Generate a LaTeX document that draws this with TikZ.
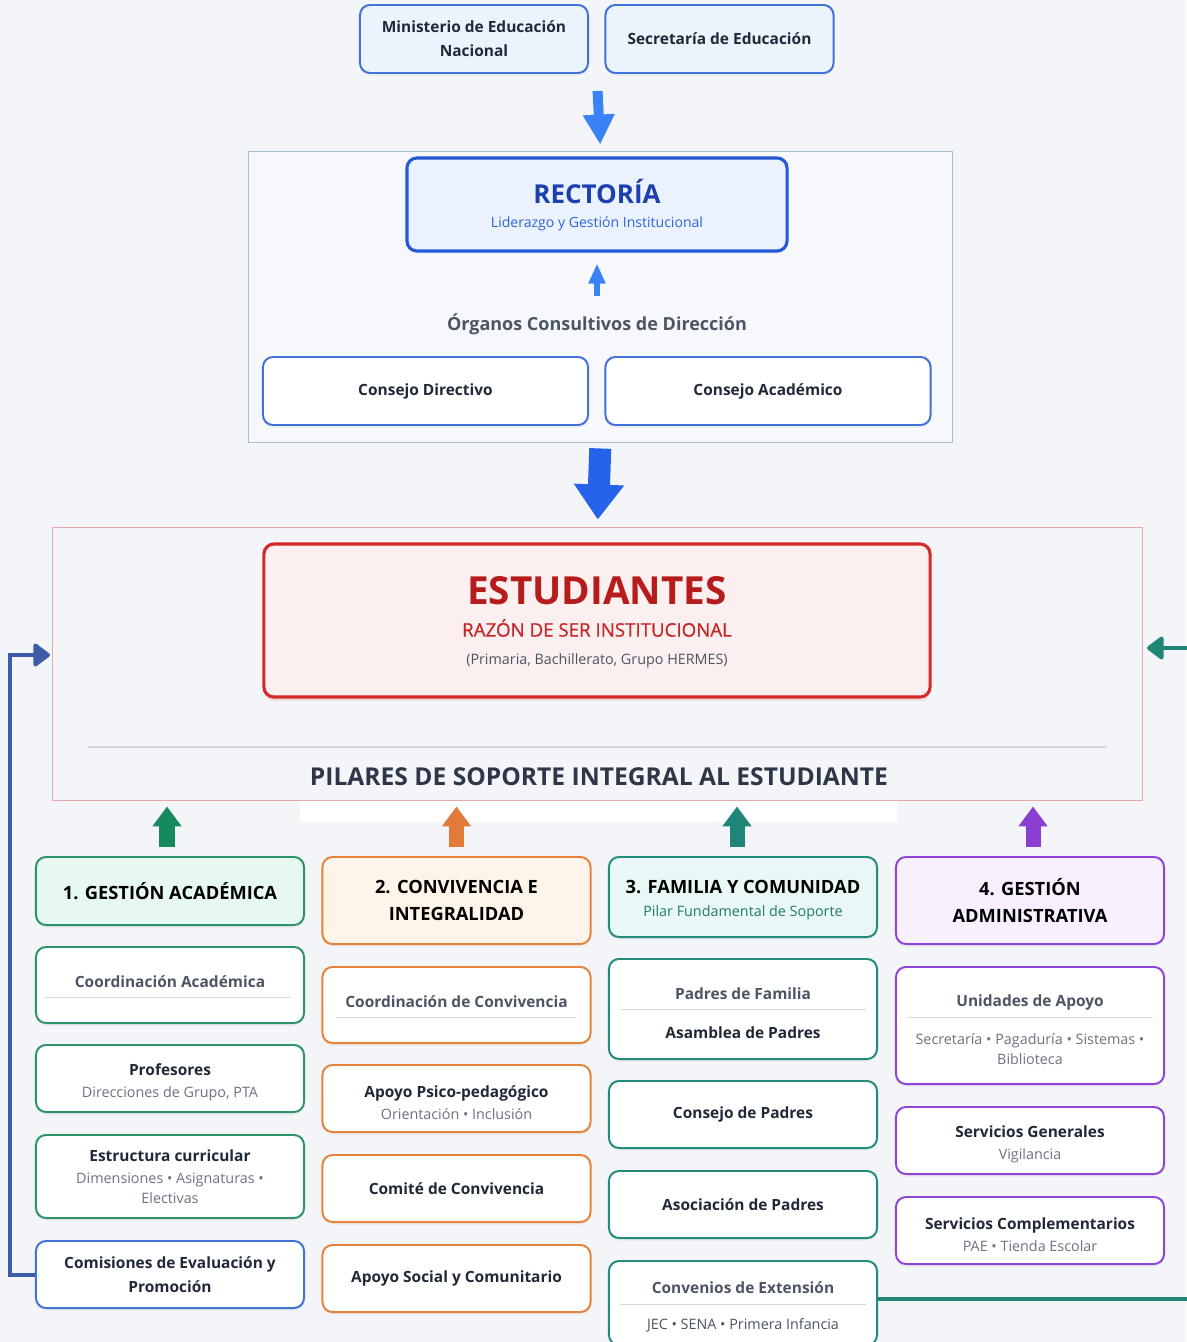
\documentclass[tikz,border=0pt]{standalone}
\usepackage{fontspec}
\setmainfont{Open Sans}
\newfontfamily\semifont[FakeBold=0.6]{Open Sans}
\usetikzlibrary{arrows.meta,shadows,calc}

\definecolor{bgc}{HTML}{F4F5F9}
\definecolor{govfill}{HTML}{EBF3FD}
\definecolor{govline}{HTML}{4272D6}
\definecolor{arrblue}{HTML}{3B82F6}
\definecolor{arrbig}{HTML}{2563EB}
\definecolor{dirline}{HTML}{A3C0D4}
\definecolor{dirfill}{HTML}{F6F8FB}
\definecolor{rectline}{HTML}{2358D6}
\definecolor{rectfill}{HTML}{EAF2FE}
\definecolor{recttitle}{HTML}{1E3FAE}
\definecolor{rectsub}{HTML}{2F63D8}
\definecolor{txtdark}{HTML}{1F2937}
\definecolor{txtgray}{HTML}{4B5563}
\definecolor{txtsub}{HTML}{6B7280}
\definecolor{estline}{HTML}{E5A9A9}
\definecolor{estred}{HTML}{D42A2A}
\definecolor{estfill}{HTML}{FCEFEF}
\definecolor{esttitle}{HTML}{B71C1C}
\definecolor{estsub}{HTML}{C42727}
\definecolor{sepgray}{HTML}{D5D8DD}
\definecolor{pilartxt}{HTML}{2D3748}
\definecolor{grn}{HTML}{2E9468}
\definecolor{grnfill}{HTML}{E7F8F0}
\definecolor{grnarr}{HTML}{148A5D}
\definecolor{orng}{HTML}{E6833A}
\definecolor{orngfill}{HTML}{FEF4EA}
\definecolor{orngarr}{HTML}{E07B39}
\definecolor{tea}{HTML}{238A7E}
\definecolor{teafill}{HTML}{E9F8F6}
\definecolor{teaarr}{HTML}{1F8579}
\definecolor{teatxt}{HTML}{227A70}
\definecolor{pur}{HTML}{9043D7}
\definecolor{purfill}{HTML}{F8F0FE}
\definecolor{purarr}{HTML}{8A3FD0}
\definecolor{loopblue}{HTML}{3D5CA8}
\definecolor{loopteal}{HTML}{218578}

\newcommand\subtxt[1]{{\mdseries\fontsize{10.2}{15}\selectfont\color{txtsub}#1}}
\newcommand\lift{\rule{0pt}{14pt}}

\tikzset{
  softshadow/.style={drop shadow={opacity=0.07,shadow xshift=0pt,shadow yshift=-2pt}},
  govbox/.style={draw=govline,fill=govfill,line width=1.4pt,rounded corners=0.25cm,
    minimum width=5.7cm,minimum height=1.7cm,align=center,text=txtdark,
    font=\fontsize{11}{17}\selectfont\bfseries,softshadow},
  dirframe/.style={draw=dirline,fill=dirfill,line width=0.6pt,
    minimum width=17.575cm,minimum height=7.275cm,inner sep=0pt},
  rectbox/.style={draw=rectline,fill=rectfill,line width=2.2pt,rounded corners=0.25cm,
    minimum width=9.5cm,minimum height=2.325cm,softshadow},
  consejo/.style={draw=govline,fill=white,line width=1.4pt,rounded corners=0.25cm,
    minimum width=8.125cm,minimum height=1.7cm,text=txtdark,
    font=\fontsize{11}{17}\selectfont\bfseries,softshadow},
  estframe/.style={draw=estline,fill=bgc,line width=0.6pt,
    minimum width=27.225cm,minimum height=6.825cm,inner sep=0pt},
  estbox/.style={draw=estred,fill=estfill,line width=2.2pt,rounded corners=0.25cm,
    minimum width=16.65cm,minimum height=3.825cm,
    drop shadow={opacity=0.1,shadow xshift=0pt,shadow yshift=-3pt,fill=estred}},
  card/.style={draw,fill=white,line width=1.4pt,rounded corners=0.25cm,
    minimum width=6.7cm,minimum height=1.675cm,align=center,inner sep=2pt,
    text=txtdark,font=\fontsize{11}{17}\selectfont\bfseries,softshadow},
  acad/.style={card,draw=grn},
  conv/.style={card,draw=orng},
  fam/.style={card,draw=tea},
  adm/.style={card,draw=pur},
  headcard/.style={font=\fontsize{13}{19}\selectfont\bfseries,text=black},
  sepline/.style={sepgray,line width=0.6pt},
  pilar/.style={line width=0.375cm,-{Triangle[length=0.5cm,width=0.7cm]},
    shorten <=0.225cm,shorten >=0.15cm},
  loopline/.style={line width=0.1cm,-{Triangle[round,length=0.45cm,width=0.65cm]}}
}

\begin{document}
\begin{tikzpicture}[x=0.025cm,y=-0.025cm]
    %%%% Background %%%%%%%%%%%%%%%%%%%%%%%%%%%%%%%%%%%%%%%%%%%%%%%%%%%%%%
    \fill[bgc] (0,0) rectangle (1186,1342);
    \useasboundingbox (0,0) rectangle (1186,1342);

    %%%% Government %%%%%%%%%%%%%%%%%%%%%%%%%%%%%%%%%%%%%%%%%%%%%%%%%%%%%%
    \node[govbox] (men) at (474,39) {Ministerio de Educación\\Nacional};
    \node[govbox] (sed) at (719.5,39) {Secretaría de Educación};
    \coordinate (gov) at ($(men.south)!0.5!(sed.south)$);

    %%%% Direction %%%%%%%%%%%%%%%%%%%%%%%%%%%%%%%%%%%%%%%%%%%%%%%%%%%%%%%
    \node[dirframe] (dir) at (600.5,296.5) {};
    \node[rectbox] (rect) at (597,204.5) {};
    \node[text=recttitle,font=\fontsize{18.5}{22}\selectfont\bfseries] (recttitle) at (597,192) {RECTORÍA};
    \node[text=rectsub,font=\fontsize{10}{12}\selectfont] (rectsub) at (597,224) {Liderazgo y Gestión Institucional};
    \node[text=txtgray,font=\fontsize{12.8}{15}\selectfont\bfseries] (org) at (597,324) {Órganos Consultivos de Dirección};
    \node[consejo] (cd) at (425.5,391) {Consejo Directivo};
    \node[consejo] (cac) at (768,391) {Consejo Académico};

    \draw[arrblue,line width=0.25cm,-{Triangle[length=0.75cm,width=0.75cm]},
          shorten <=0.425cm,shorten >=0.15cm] (gov) -- (dir.north);
    \draw[arrblue,line width=0.15cm,-{Triangle[length=0.5cm,width=0.4cm]},
          shorten <=0.3cm,shorten >=0.275cm] (org.north) -- (rect.south);

    %%%% Students %%%%%%%%%%%%%%%%%%%%%%%%%%%%%%%%%%%%%%%%%%%%%%%%%%%%%%%%
    \fill[white] (300,790) rectangle (897,822);
    \node[estframe] (est) at (597.5,663.5) {};
    \node[estbox] (estbox) at (597,620.5) {};
    \node[text=esttitle,font=\fontsize{27.5}{30}\selectfont\bfseries] (esttitle) at (597,591) {ESTUDIANTES};
    \node[text=estsub,font=\semifont\fontsize{13.3}{16}\selectfont] (estsub) at (597,628) {RAZÓN DE SER INSTITUCIONAL};
    \node[text=txtgray,font=\fontsize{10.2}{12}\selectfont] (estnote) at (597,661) {(Primaria, Bachillerato, Grupo HERMES)};
    \draw[sepline,line width=1pt] (88,747) -- (1107,747);
    \node[text=pilartxt,font=\fontsize{17.5}{20}\selectfont\bfseries] (pilares) at (599,777) {PILARES DE SOPORTE INTEGRAL AL ESTUDIANTE};

    \draw[arrbig,line width=0.55cm,-{Triangle[length=0.875cm,width=1.2cm]},
          shorten <=0.15cm,shorten >=0.175cm] (dir.south) -- (est.north);

    %%%% 1. Gestion academica %%%%%%%%%%%%%%%%%%%%%%%%%%%%%%%%%%%%%%%%%%%%%
    \node[acad,headcard,fill=grnfill,minimum height=1.7cm] (ga) at (170,891) {1. GESTIÓN ACADÉMICA};
    \node[acad,text=txtgray,minimum height=1.9cm] (ga1) at (170,985) {\raisebox{5pt}{Coordinación Académica}};
    \draw[sepline] ($(ga1.west)+(10,12)$) -- ($(ga1.east)+(-15,12)$);
    \node[acad] (ga2) at (170,1078.5) {\lift Profesores\\[-1.5pt]\subtxt{Direcciones de Grupo, PTA}};
    \node[acad,minimum height=2.075cm] (ga3) at (170,1176.5) {Estructura curricular\\[-1pt]\subtxt{Dimensiones • Asignaturas •}\\[-3pt]\subtxt{Electivas}};
    \node[card,draw=govline] (ga4) at (170,1274.5) {Comisiones de Evaluación y\\Promoción};

    %%%% 2. Convivencia %%%%%%%%%%%%%%%%%%%%%%%%%%%%%%%%%%%%%%%%%%%%%%%%%%%
    \node[conv,headcard,fill=orngfill,minimum height=2.175cm] (cv) at (456.5,900.5) {2. CONVIVENCIA E\\INTEGRALIDAD};
    \node[conv,text=txtgray,minimum height=1.9cm] (cv1) at (456.5,1005) {\raisebox{5pt}{Coordinación de Convivencia}};
    \draw[sepline] ($(cv1.west)+(16,12)$) -- ($(cv1.east)+(-16,12)$);
    \node[conv] (cv2) at (456.5,1098.5) {\lift Apoyo Psico-pedagógico\\[-1.5pt]\subtxt{Orientación • Inclusión}};
    \node[conv] (cv3) at (456.5,1188.5) {Comité de Convivencia};
    \node[conv] (cv4) at (456.5,1278.5) {Apoyo Social y Comunitario};

    %%%% 3. Familia y comunidad %%%%%%%%%%%%%%%%%%%%%%%%%%%%%%%%%%%%%%%%%%%
    \node[fam,headcard,fill=teafill,minimum height=2cm] (fc) at (743,897) {\lift 3. FAMILIA Y COMUNIDAD\\[-3pt]{\mdseries\fontsize{10.2}{12}\selectfont\color{teatxt}Pilar Fundamental de Soporte}};
    \node[fam,minimum height=2.5cm] (fc1) at (743,1009) {\lift{\color{txtgray}Padres de Familia}\\[11pt]Asamblea de Padres};
    \draw[sepline] ($(fc1.west)+(12,0)$) -- ($(fc1.east)+(-12,0)$);
    \node[fam] (fc2) at (743,1114.5) {Consejo de Padres};
    \node[fam] (fc3) at (743,1204.5) {Asociación de Padres};
    \node[fam,minimum height=2.1cm] (fc4) at (743,1303) {\lift{\color{txtgray}Convenios de Extensión}\\[9pt]\subtxt{\color{txtgray}JEC • SENA • Primera Infancia}};
    \draw[sepline] ($(fc4.west)+(12,1)$) -- ($(fc4.east)+(-12,1)$);

    %%%% 4. Gestion administrativa %%%%%%%%%%%%%%%%%%%%%%%%%%%%%%%%%%%%%%%%
    \node[adm,headcard,fill=purfill,minimum height=2.175cm] (gad) at (1030,900.5) {4. GESTIÓN\\ADMINISTRATIVA};
    \node[adm,minimum height=2.925cm] (gad1) at (1030,1025.5) {\lift{\color{txtgray}Unidades de Apoyo}\\[10pt]\subtxt{Secretaría • Pagaduría • Sistemas •}\\[-3pt]\subtxt{Biblioteca}};
    \draw[sepline] ($(gad1.west)+(12,-8)$) -- ($(gad1.east)+(-12,-8)$);
    \node[adm] (gad2) at (1030,1140.5) {\lift Servicios Generales\\[-1.5pt]\subtxt{Vigilancia}};
    \node[adm] (gad3) at (1030,1230.5) {\lift Servicios Complementarios\\[-1.5pt]\subtxt{PAE • Tienda Escolar}};

    %%%% Pillar arrows %%%%%%%%%%%%%%%%%%%%%%%%%%%%%%%%%%%%%%%%%%%%%%%%%%%%
    \draw[pilar,grnarr] ([xshift=-0.075cm]ga.north) -- ([xshift=-0.075cm]ga.north |- est.south);
    \draw[pilar,orngarr] (cv.north) -- (cv.north |- est.south);
    \draw[pilar,teaarr] ([xshift=-0.15cm]fc.north) -- ([xshift=-0.15cm]fc.north |- est.south);
    \draw[pilar,purarr] ([xshift=0.075cm]gad.north) -- ([xshift=0.075cm]gad.north |- est.south);

    %%%% Feedback loops %%%%%%%%%%%%%%%%%%%%%%%%%%%%%%%%%%%%%%%%%%%%%%%%%%
    \coordinate (inL) at (50,655);
    \coordinate (inR) at (1147,648);
    \draw[loopline,loopblue] (ga4.west) -- ++(-25,0) |- (inL);
    \draw[loopline,loopteal] ([yshift=0.1cm]fc4.east) -- ++(340,0) |- (inR);
\end{tikzpicture}
\end{document}
